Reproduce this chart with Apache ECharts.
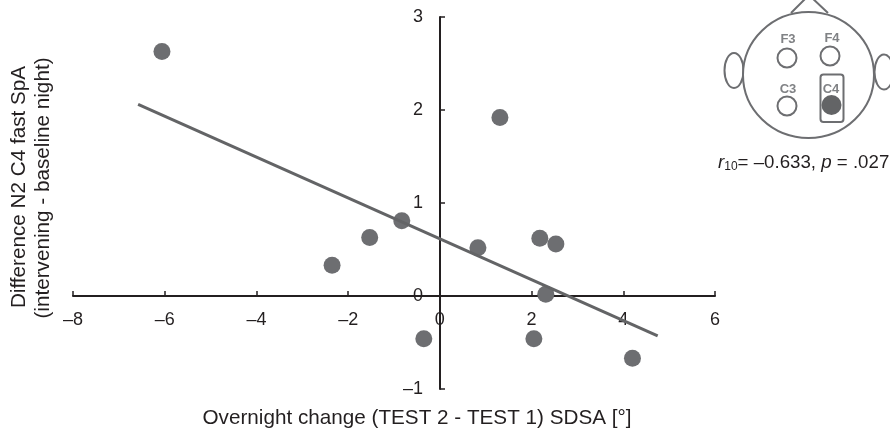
<!DOCTYPE html>
<html><head><meta charset="utf-8">
<style>html,body{margin:0;padding:0;background:#fff}#c{width:890px;height:435px}</style>
<script src="https://cdn.jsdelivr.net/npm/echarts@6/dist/echarts.min.js"></script>
</head><body><div id="c"></div>
<script>
const pointsX = [-6.06, 1.31, -0.83, -1.53, -2.35, 0.83, 2.18, 2.53, 2.31, -0.35, 2.05, 4.20];
const pointsY = [2.63, 1.92, 0.81, 0.63, 0.33, 0.52, 0.62, 0.56, 0.02, -0.46, -0.46, -0.67];
const fitX = [-6.58, 4.75];
const fitY = [2.06, -0.43];
const xTitle = 'Overnight change (TEST 2 - TEST 1) SDSA [°]';
const yTitleLines = ['Difference N2 C4 fast SpA', '(intervening - baseline night)'];
const electrodes = ['F3', 'F4', 'C3', 'C4'];

const FONT = '"Liberation Sans", Arial, sans-serif';
const INK = '#231f20', GREY = '#6d6e71', HEAD = '#6d6e71';
const ring = (x, y, r) => ({type:'circle', shape:{cx:x, cy:y, r}, style:{fill:'#fff', stroke:HEAD, lineWidth:2}});
const lab = (t, x, y) => ({type:'text', x, y, style:{text:t, fill:'#808285', font:'bold 13px '+FONT, align:'center', verticalAlign:'middle'}});
const axisCommon = {
  axisLine:{onZero:false, lineStyle:{color:INK, width:2}},
  axisTick:{inside:true, length:5, lineStyle:{color:INK, width:1.5}},
  splitLine:{show:false},
  axisLabel:{color:INK, fontFamily:FONT, fontSize:18, formatter:v => String(v).replace('-', '\u2013')}
};
const chart = echarts.init(document.getElementById('c'), null, {renderer:'canvas'});
chart.setOption({
  animation:false,
  backgroundColor:'#fff',
  grid:{left:73, right:175, top:17, bottom:46, containLabel:false},
  xAxis:{type:'value', min:-8, max:6, interval:2, offset:-93, ...axisCommon,
    axisLabel:{...axisCommon.axisLabel, margin:15, showMinLabel:true, showMaxLabel:true}},
  yAxis:{type:'value', min:-1, max:3, interval:1, offset:-367, ...axisCommon,
    axisLabel:{...axisCommon.axisLabel, margin:17, showMinLabel:true, showMaxLabel:true}},
  series:[
    {type:'scatter', data:pointsX.map((x,i)=>[x,pointsY[i]]), symbolSize:17, z:2,
      itemStyle:{color:GREY, opacity:1}},
    {type:'line', data:fitX.map((x,i)=>[x,fitY[i]]), symbol:'none', z:3, silent:true,
      lineStyle:{color:'#636466', width:3}}
  ],
  graphic:[
    {type:'text', x:417, y:418, style:{text:xTitle, fill:INK, font:'20.7px '+FONT, align:'center', verticalAlign:'middle'}},
    {type:'text', x:19, y:187, rotation:Math.PI/2, style:{text:yTitleLines[0], fill:INK, font:'20.7px '+FONT, align:'center', verticalAlign:'middle'}},
    {type:'text', x:43, y:188, rotation:Math.PI/2, style:{text:yTitleLines[1], fill:INK, font:'20.7px '+FONT, align:'center', verticalAlign:'middle'}},
    {type:'polyline', shape:{points:[[791,13],[808,-4],[810,-4],[828,13]]}, style:{fill:'none', stroke:HEAD, lineWidth:2}},
    {type:'ellipse', shape:{cx:734, cy:70.5, rx:9.5, ry:17.5}, style:{fill:'#fff', stroke:HEAD, lineWidth:2}},
    {type:'ellipse', shape:{cx:884, cy:72, rx:9.5, ry:17.5}, style:{fill:'#fff', stroke:HEAD, lineWidth:2}},
    {type:'ellipse', shape:{cx:808.5, cy:75, rx:65.5, ry:63}, style:{fill:'#fff', stroke:HEAD, lineWidth:2}},
    ring(787,58,9.5), ring(830,56,9.5), ring(787,106,9.5),
    {type:'rect', shape:{x:820.5, y:74.5, width:23, height:47.5, r:3}, style:{fill:'#fff', stroke:HEAD, lineWidth:2}},
    {type:'circle', shape:{cx:831.5, cy:105, r:10}, style:{fill:'#636466'}},
    lab(electrodes[0],788,39), lab(electrodes[1],832,38), lab(electrodes[2],788,89), lab(electrodes[3],831,89),
    {type:'text', x:718, y:163, style:{
      text:'{i|r}{s|10}{n|= \u20130.633, }{i|p}{n| = .027}',
      verticalAlign:'middle',
      rich:{
        i:{fontFamily:FONT, fontStyle:'italic', fontSize:18.7, fill:INK, color:INK},
        n:{fontFamily:FONT, fontSize:18.7, fill:INK, color:INK},
        s:{fontFamily:FONT, fontSize:12, fill:INK, color:INK, verticalAlign:'bottom', padding:[6,0,0,0]}
      }}}
  ]
});
</script></body></html>
